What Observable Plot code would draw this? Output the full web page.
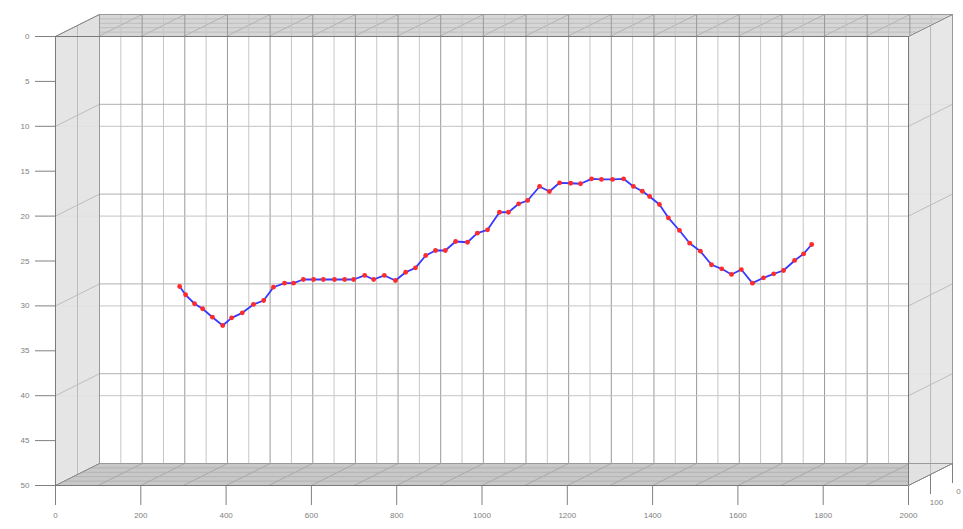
<!DOCTYPE html>
<html><head><meta charset="utf-8">
<script src="https://cdn.jsdelivr.net/npm/d3@7"></script>
<script src="https://cdn.jsdelivr.net/npm/@observablehq/plot@0.6"></script>
<style>body{margin:0;background:#fff}</style>
</head><body><div id="chart"></div>
<script>
// ---- data ----
const distance = [291,305,326,345,368,392,413,438,464,488,511,537,558,581,605,628,654,678,699,725,746,771,797,821,844,868,891,914,938,966,989,1013,1041,1062,1086,1107,1135,1158,1182,1208,1231,1257,1280,1306,1332,1355,1376,1393,1416,1437,1463,1487,1512,1538,1562,1585,1608,1634,1660,1684,1707,1733,1754,1773];
const value = [27.84,28.76,29.76,30.32,31.26,32.18,31.33,30.77,29.84,29.40,27.92,27.47,27.47,27.06,27.06,27.06,27.06,27.06,27.06,26.61,27.06,26.61,27.17,26.25,25.76,24.39,23.83,23.83,22.83,22.91,21.90,21.53,19.57,19.57,18.63,18.26,16.70,17.26,16.29,16.34,16.40,15.85,15.92,15.92,15.85,16.70,17.23,17.82,18.71,20.19,21.60,23.02,23.91,25.42,25.87,26.50,25.95,27.47,26.87,26.43,26.06,24.94,24.20,23.16];
const xTicks = [0,200,400,600,800,1000,1200,1400,1600,1800,2000];
const yTicks = [0,5,10,15,20,25,30,35,40,45,50];
const yGrid = [10,20,30,40];
const depthTickLabels = ["100","0"];
const depthTickFractions = [0.5,1];

// ---- layout / style ----
const W = 963, H = 529, ML = 55, MR = 55, MT = 36, MB = 44;
const DX = 44, DY = -22;         // 3D depth offset in px
const X0 = 0, X1 = 2000, Y0 = 0, Y1 = 50;
const ux = (X1 - X0) / (W - ML - MR);
const uy = (Y1 - Y0) / (H - MT - MB);
const dU = DX * ux, dV = DY * uy; // depth offset in data units

const series = distance.map((d, i) => ({x: d, y: value[i]}));
const grid50 = d3.range(X0, X1 + 1, 50);
const major = grid50.filter(d => d % 100 === 0);
const minor = grid50.filter(d => d % 100 !== 0);

const leftWall = [{x: X0, y1: Y0, y2: Y1}, {x: X0 + dU, y1: Y0 + dV, y2: Y1 + dV}];
const rightWall = [{x: X1, y1: Y0, y2: Y1}, {x: X1 + dU, y1: Y0 + dV, y2: Y1 + dV}];
const slab = (yy) => [
  {x: X0, y1: yy, y2: yy},
  {x: X0 + dU, y1: yy + dV, y2: yy},
  {x: X1, y1: yy + dV, y2: yy},
  {x: X1 + dU, y1: yy + dV, y2: yy + dV}
];
const hatchDiag = (yy) => major.map(x => ({x1: x, y1: yy, x2: x + dU, y2: yy + dV}));
const hatchLong = (yy) => [0.2, 0.4, 0.6, 0.8].map(t => ({x1: X0 + t * dU, y1: yy + t * dV, x2: X1 + t * dU, y2: yy + t * dV}));
const wallDiag = (x) => yTicks.filter(v => v % 10 === 0).map(v => ({x1: x, y1: v, x2: x + dU, y2: v + dV}));
const corners = [
  {x1: X0, y1: Y0, x2: X0 + dU, y2: Y0 + dV},
  {x1: X1, y1: Y0, x2: X1 + dU, y2: Y0 + dV},
  {x1: X0, y1: Y1, x2: X0 + dU, y2: Y1 + dV},
  {x1: X1, y1: Y1, x2: X1 + dU, y2: Y1 + dV}
];
const tickLen = 20 * uy;
const depthTicks = depthTickFractions.map((t, i) => ({x: X1 + t * dU, y1: Y1 + t * dV, y2: Y1 + t * dV + tickLen, label: depthTickLabels[i]}));

const chart = Plot.plot({
  width: W, height: H,
  marginLeft: ML, marginRight: MR, marginTop: MT, marginBottom: MB,
  style: {fontFamily: "Liberation Sans, Arial, sans-serif", fontSize: "8px", color: "#808080", background: "#fff"},
  x: {domain: [X0, X1], ticks: xTicks, tickSize: 20, tickPadding: 7, label: null, tickFormat: d => String(d)},
  y: {domain: [Y0, Y1], reverse: true, ticks: yTicks, tickSize: 20, tickPadding: 6, label: null, tickFormat: d => String(d)},
  marks: [
    // floor and ceiling slabs
    Plot.areaY(slab(Y1), {x: "x", y1: "y1", y2: "y2", fill: "#c8c8c8", curve: "linear"}),
    Plot.link(hatchDiag(Y1), {x1: "x1", y1: "y1", x2: "x2", y2: "y2", stroke: "#a0a0a0", strokeWidth: 0.8}),
    Plot.link(hatchLong(Y1), {x1: "x1", y1: "y1", x2: "x2", y2: "y2", stroke: "#adadad", strokeWidth: 0.8}),
    Plot.areaY(slab(Y0), {x: "x", y1: "y1", y2: "y2", fill: "#d6d6d6", curve: "linear"}),
    Plot.link(hatchDiag(Y0), {x1: "x1", y1: "y1", x2: "x2", y2: "y2", stroke: "#a8a8a8", strokeWidth: 0.8}),
    Plot.link(hatchLong(Y0), {x1: "x1", y1: "y1", x2: "x2", y2: "y2", stroke: "#b8b8b8", strokeWidth: 0.8}),
    // back wall grid
    Plot.ruleX(minor, {x: d => d, y1: () => Y0, y2: () => Y1, dx: DX, dy: DY, stroke: "#c6c6c6", strokeWidth: 1}),
    Plot.ruleX(major, {x: d => d, y1: () => Y0, y2: () => Y1, dx: DX, dy: DY, stroke: "#999999", strokeWidth: 1}),
    Plot.ruleY(yGrid, {y: d => d, x1: () => X0, x2: () => X1, dx: DX, dy: DY, stroke: "#b0b0b0"}),
    Plot.ruleY(yGrid, {y: d => d, x1: () => X0, x2: () => X1, stroke: "#c4c4c4"}),
    // side walls
    Plot.areaY(leftWall, {x: "x", y1: "y1", y2: "y2", fill: "#e2e2e2", fillOpacity: 0.9, curve: "linear"}),
    Plot.areaY(rightWall, {x: "x", y1: "y1", y2: "y2", fill: "#e4e4e4", fillOpacity: 0.9, curve: "linear"}),
    Plot.link([{x1: X0 + dU / 2, y1: Y0 + dV / 2, x2: X0 + dU / 2, y2: Y1 + dV / 2}, {x1: X1 + dU / 2, y1: Y0 + dV / 2, x2: X1 + dU / 2, y2: Y1 + dV / 2}], {x1: "x1", y1: "y1", x2: "x2", y2: "y2", stroke: "#bcbcbc"}),
    Plot.link(wallDiag(X0), {x1: "x1", y1: "y1", x2: "x2", y2: "y2", stroke: "#bdbdbd"}),
    Plot.link(wallDiag(X1), {x1: "x1", y1: "y1", x2: "x2", y2: "y2", stroke: "#bdbdbd"}),
    // box edges
    Plot.ruleX([X0, X1], {x: d => d, y1: () => Y0, y2: () => Y1, dx: DX, dy: DY, stroke: "#9a9a9a"}),
    Plot.ruleY([Y0, Y1], {y: d => d, x1: () => X0, x2: () => X1, dx: DX, dy: DY, stroke: "#9a9a9a"}),
    Plot.link(corners, {x1: "x1", y1: "y1", x2: "x2", y2: "y2", stroke: "#8a8a8a"}),
    Plot.ruleX([X0, X1], {x: d => d, y1: () => Y0, y2: () => Y1, stroke: "#7a7a7a"}),
    Plot.ruleY([Y0, Y1], {y: d => d, x1: () => X0, x2: () => X1, stroke: "#7a7a7a"}),
    // depth axis
    Plot.ruleX(depthTicks, {x: "x", y1: "y1", y2: "y2", stroke: "#808080"}),
    Plot.text(depthTicks, {x: "x", y: "y2", text: "label", dy: 8, dx: 6, fill: "#808080"}),
    // series
    Plot.line(series, {x: "x", y: "y", stroke: "#3838ff", strokeWidth: 1.8}),
    Plot.dot(series, {x: "x", y: "y", r: 2.4, fill: "#ff2a2a", stroke: "none"})
  ]
});
document.getElementById("chart").appendChild(chart);
</script>
</body></html>
